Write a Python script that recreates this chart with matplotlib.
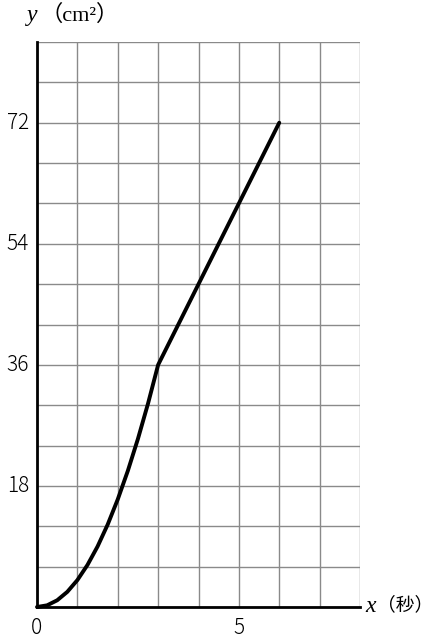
import matplotlib
matplotlib.use("Agg")
from matplotlib import pyplot as plt

# values
x_vals = [0, 0.25, 0.5, 0.75, 1, 1.25, 1.5, 1.75, 2, 2.25, 2.5, 2.75, 3, 6]
y_vals = [0, 0.25, 1, 2.25, 4, 6.25, 9, 12.25, 16, 20.25, 25, 30.25, 36, 72]
x_ticks = [0, 5]
y_ticks = [18, 36, 54, 72]
x_max, y_max = 8, 84

W, H = 434, 638
fig = plt.figure(figsize=(W / 100, H / 100), dpi=100)
ax = fig.add_axes([37 / W, (H - 607) / H, 323 / W, 565 / H])

ax.set_xlim(0, x_max)
ax.set_ylim(0, y_max)
ax.set_xticks(range(0, x_max + 1))
ax.set_yticks(range(0, y_max + 1, 6))
ax.grid(True, color="#8a8a8a", linewidth=1.0)
ax.tick_params(length=0, labelbottom=False, labelleft=False)
for side in ["top", "right"]:
    ax.spines[side].set_visible(False)
ax.spines["left"].set_linewidth(2.0)
ax.spines["bottom"].set_linewidth(2.0)
ax.spines["left"].set_zorder(5)
ax.spines["bottom"].set_zorder(5)

ax.plot(x_vals, y_vals, color="black", linewidth=2.8, solid_capstyle="round", zorder=6, clip_on=False)

num_font = ["Noto Sans CJK JP", "DejaVu Sans"]
for v in y_ticks:
    ax.annotate(str(v), (0, v), xytext=(-8, 0), textcoords="offset pixels",
                ha="right", va="center", fontsize=15, family=num_font, fontweight="light")
for v in x_ticks:
    ax.annotate(str(v), (v, 0), xytext=(0, -27), textcoords="offset pixels",
                ha="center", va="baseline", fontsize=15, family=num_font, fontweight="light")

# axis labels
fig.text(27 / W, 1 - 16 / H, "y", fontsize=17, style="italic", family="Liberation Serif", va="center", ha="left")
fig.text(40 / W, 1 - 15 / H, "（cm²）", fontsize=16, family=["Liberation Serif", "Noto Sans CJK JP"], va="center", ha="left")
fig.text(365 / W, 1 - 606 / H, "x", fontsize=17, style="italic", family="Liberation Serif", va="center", ha="left")
fig.text(377 / W, 1 - 605 / H, "（秒）", fontsize=13.5, family=["Noto Sans CJK JP"], va="center", ha="left")

fig.savefig("out.png", dpi=100)
